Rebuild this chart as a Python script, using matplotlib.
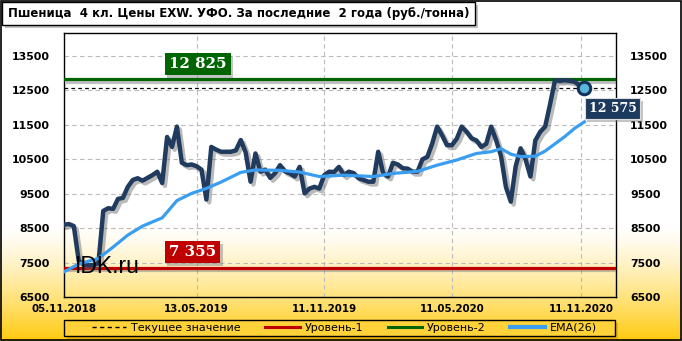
import numpy as np
import pandas as pd
import matplotlib
matplotlib.use("Agg")
import matplotlib.pyplot as plt
import matplotlib.patheffects as pe
import matplotlib.transforms as mtrans
from matplotlib.patches import Rectangle
from matplotlib.lines import Line2D

# ---------------- data ----------------
start_date = "2018-11-05"
price = [8600, 8620, 8560, 7550, 7450, 7420, 7430, 7480, 9000, 9080,
         9060, 9350, 9380, 9700, 9900, 9950, 9880, 9960, 10040, 10140,
         9810, 11150, 10860, 11450, 10400, 10330, 10350, 10300, 10200, 9330,
         10860, 10780, 10720, 10720, 10720, 10760, 11060, 10700, 9850, 10670,
         10140, 10200, 9960, 10100, 10330, 10150, 10090, 10000, 10280, 9510,
         9650, 9700, 9650, 10040, 10140, 10130, 10280, 10040, 10140, 10100,
         9950, 9900, 9850, 9850, 10720, 10090, 10000, 10400, 10350, 10240,
         10230, 10140, 10140, 10500, 10570, 10960, 11450, 11200, 10910, 10910,
         11100, 11450, 11300, 11110, 11050, 10860, 10950, 11450, 11060, 10600,
         9700, 9270, 10300, 10820, 10500, 10000, 11050, 11300, 11450, 12100,
         12800, 12780, 12800, 12780, 12750, 12650, 12575]
ema_week = [0, 3, 7, 10, 13, 16, 20, 23, 26, 29, 32, 36, 39, 44, 48, 52, 57,
            63, 67, 72, 76, 80, 84, 87, 89, 91, 93, 96, 98, 100, 102, 104, 106]
ema_vals = [7230, 7460, 7620, 7950, 8300, 8560, 8800, 9300, 9510, 9655, 9840,
            10120, 10190, 10180, 10130, 10000, 10040, 10000, 10090, 10150,
            10330, 10480, 10670, 10720, 10810, 10650, 10580, 10590, 10740,
            10950, 11160, 11400, 11590]
level1 = 7355
level2 = 12825
current = 12575
tick_dates = ["2018-11-05", "2019-05-13", "2019-11-11", "2020-05-11", "2020-11-11"]
tick_labels = ["05.11.2018", "13.05.2019", "11.11.2019", "11.05.2020", "11.11.2020"]
y_ticks = [6500, 7500, 8500, 9500, 10500, 11500, 12500, 13500]
title = "Пшеница  4 кл. Цены EXW. УФО. За последние  2 года (руб./тонна)"
legend_labels = ["Текущее значение", "Уровень-1", "Уровень-2", "EMA(26)"]

dates = pd.date_range(start_date, periods=len(price), freq="7D")
ema_dates = dates[ema_week]

# ---------------- figure ----------------
W, H = 682, 341
fig = plt.figure(figsize=(W / 100, H / 100), dpi=100)

def fx(x):
    return x / W

def fy(y):
    return 1 - y / H

# background gradient
bg = fig.add_axes([0, 0, 1, 1], zorder=-10)
rows = np.arange(H)
t = np.clip((rows - 225) / (H - 225), 0, 1) ** 1.3
top_c = np.array([1.0, 1.0, 1.0])
bot_c = np.array([1.0, 0.79, 0.05])
grad = top_c[None, :] * (1 - t[:, None]) + bot_c[None, :] * t[:, None]
grad = np.repeat(grad[:, None, :], 2, axis=1)
bg.imshow(grad, aspect="auto", extent=[0, 1, 0, 1], interpolation="bilinear")
bg.set_xlim(0, 1)
bg.set_ylim(0, 1)
bg.axis("off")
bg.add_patch(Rectangle((0.0015, 0.003), 0.997, 0.994, fill=False,
                       edgecolor="black", linewidth=1.2, transform=bg.transAxes))

L, R, T, B = 64, 616, 33, 297
ax = fig.add_axes([fx(L), fy(B), fx(R - L), fy(T) - fy(B)])
ax.set_facecolor("none")

navy = "#203B5E"
shadow = [pe.SimpleLineShadow(offset=(1.8, -1.8), shadow_color="#777777", alpha=0.45), pe.Normal()]

ax.axhline(level2, color="#006400", lw=2.3, zorder=3, path_effects=shadow)
ax.axhline(level1, color="#C00000", lw=2.3, zorder=3, path_effects=shadow)
ax.axhline(current, color="black", lw=0.9, ls=(0, (3, 2.5)), zorder=3)
ax.plot(dates, price, color=navy, lw=3.2, zorder=5, solid_joinstyle="round",
        path_effects=[pe.SimpleLineShadow(offset=(2, -2), shadow_color="#666666", alpha=0.45), pe.Normal()])
ax.plot(ema_dates, ema_vals, color="#3A9EF0", lw=2.3, zorder=6, solid_joinstyle="round")
ax.plot([dates[-1]], [price[-1]], marker="o", ms=9, mfc="#5BB6DA", mec="#13335A", mew=2.2, zorder=8)

ax.set_ylim(6500, 14170)
ax.set_xlim(pd.Timestamp("2018-11-05"), pd.Timestamp("2020-12-31"))
ax.set_yticks(y_ticks)
ax.set_xticks(pd.to_datetime(tick_dates))
ax.set_xticklabels(tick_labels)
ax.grid(True, color="#BBBBBB", ls=(0, (4, 3)), lw=0.8)
ax.set_axisbelow(True)
ax.tick_params(axis="both", length=0, labelsize=7.9, colors="black")
ax.tick_params(axis="y", pad=10, labelright=True, right=False)
ax.tick_params(axis="x", pad=5, labelsize=7.4)
for lab in ax.get_xticklabels() + ax.yaxis.get_ticklabels(which="major"):
    lab.set_fontweight("bold")
for tk in ax.yaxis.get_major_ticks():
    tk.label2.set_fontweight("bold")
for s in ax.spines.values():
    s.set_color("black")
    s.set_linewidth(1)

def fmt(v):
    return f"{v:,}".replace(",", " ")

blend = mtrans.blended_transform_factory(ax.transAxes, ax.transData)
box_kw = dict(boxstyle="square,pad=0.28", linewidth=0)
for lvl, col in [(level2, "#006400"), (level1, "#C00000")]:
    a = ax.annotate(fmt(lvl), xy=(0.19, lvl), xycoords=blend, xytext=(0, 6),
                    textcoords="offset points", ha="left", va="bottom",
                    color="white", fontsize=10.8, fontweight="bold",
                    family="DejaVu Serif", zorder=9,
                    bbox=dict(facecolor=col, edgecolor=col, **box_kw))
    a.get_bbox_patch().set_path_effects([pe.SimplePatchShadow(offset=(2, -2), shadow_rgbFace="#888888", alpha=0.5), pe.Normal()])

a = ax.annotate(fmt(current), xy=(dates[-1], price[-1]), xytext=(3, -10),
                textcoords="offset points", ha="left", va="top",
                color="white", fontsize=9, fontweight="bold", family="DejaVu Serif",
                zorder=10, annotation_clip=False,
                bbox=dict(boxstyle="square,pad=0.32", facecolor="#1C3A5E", edgecolor="#DDDDDD", linewidth=0.8))
a.get_bbox_patch().set_path_effects([pe.SimplePatchShadow(offset=(2, -2), shadow_rgbFace="#888888", alpha=0.5), pe.Normal()])

# watermark
fig.text(fx(75), fy(273), "IDK.ru", family="Liberation Sans", fontsize=16.5,
         color="black", ha="left", va="baseline", zorder=20)

# title box
fig.patches.append(Rectangle((fx(5), fy(28)), fx(473), fy(0) - fy(23), transform=fig.transFigure,
                             facecolor="#999999", edgecolor="none", alpha=0.6, zorder=1))
fig.patches.append(Rectangle((fx(2), fy(25)), fx(473), fy(0) - fy(23), transform=fig.transFigure,
                             facecolor="white", edgecolor="black", linewidth=1, zorder=2))
fig.text(fx(8), fy(13.5), title, fontsize=8.5, fontweight="bold", ha="left", va="center", zorder=3)

# legend frame
fig.patches.append(Rectangle((fx(67), fy(339)), fx(551), fy(0) - fy(16), transform=fig.transFigure,
                             facecolor="#B08800", edgecolor="none", alpha=0.35, zorder=1))
fig.patches.append(Rectangle((fx(64), fy(336)), fx(551), fy(0) - fy(16), transform=fig.transFigure,
                             facecolor="#FFD23A", edgecolor="black", linewidth=1, zorder=2))
handles = [Line2D([], [], color="black", lw=1, ls=(0, (3, 2.5))),
           Line2D([], [], color="#C00000", lw=2.2),
           Line2D([], [], color="#006400", lw=2.2),
           Line2D([], [], color="#3A9EF0", lw=3)]
fig.legend(handles, legend_labels, loc="center left", ncol=4, frameon=False,
           bbox_to_anchor=(fx(86), fy(328)), fontsize=8, handlelength=3.1,
           handletextpad=0.45, columnspacing=2.2, borderpad=0)

fig.savefig("out.png", dpi=100)
